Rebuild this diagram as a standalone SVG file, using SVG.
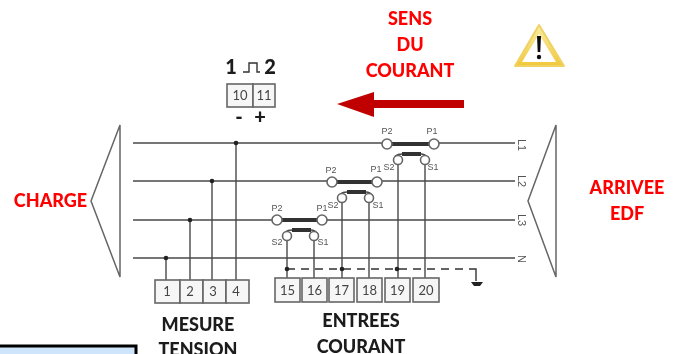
<svg xmlns="http://www.w3.org/2000/svg" width="681" height="354" viewBox="0 0 681 354">
<style>
.w{stroke:#4a4a4a;stroke-width:1.4;fill:none}
.tri{stroke:#666;stroke-width:1.5;fill:none}
.bar{stroke:#333;stroke-width:4;fill:none}
.c{stroke:#666;stroke-width:1.6;fill:#fff}
.box{stroke:#666;stroke-width:1.6;fill:#f6f6f6}
.d{fill:#222}
text{font-family:"Lato","Open Sans","Liberation Sans",sans-serif}
.red{fill:#f00;font-weight:900;font-size:18px;text-anchor:middle}
.blk{fill:#1a1a1a;font-weight:900;font-size:18px;text-anchor:middle}
.n{fill:#444;font-size:13px;text-anchor:middle}
.s{fill:#555;font-size:9px;text-anchor:middle;font-family:"Liberation Sans",sans-serif}
.ph{font-size:11px}
</style>
<defs>
<linearGradient id="y" x1="0" y1="0" x2="0" y2="1"><stop offset="0" stop-color="#f8eea8"/><stop offset="1" stop-color="#f2c83a"/></linearGradient>
<filter id="soft" x="0" y="0" width="100%" height="100%"><feGaussianBlur stdDeviation="0.45"/></filter>
</defs>
<rect width="681" height="354" fill="#fff"/>
<g filter="url(#soft)">
<g id="connectors">
<path class="w" d="M133 143H515M133 181H515M133 220H515M133 258H515"/>
<path class="w" d="M166 258V280M190 220V280M212 181V280M236 143V280"/>
<path class="w" d="M287 236V278M314 236V278M342 197V278M369 197V278M398 160V278M425 160V278"/>
<path d="M287 269H470" fill="none" stroke="#333" stroke-width="1.4" stroke-dasharray="8 6"/>
<path d="M470 269H476V281" fill="none" stroke="#333" stroke-width="1.4"/>
<path d="M471 282H483L480 286H474Z" fill="#222"/>
<g class="d"><circle cx="166" cy="258" r="2.3"/><circle cx="190" cy="220" r="2.3"/><circle cx="212" cy="181" r="2.3"/><circle cx="236" cy="143" r="2.3"/><circle cx="287" cy="269" r="2.3"/><circle cx="342" cy="269" r="2.3"/><circle cx="397" cy="269" r="2.3"/></g>
</g>
<g id="charge-source"><path class="tri" d="M120 125V277L91 201Z"/><text class="red" x="50.500" y="207">CHARGE</text></g>
<g id="arrivee-source"><path class="tri" d="M556 125V277L528 201Z"/><text class="red" x="627" y="194">ARRIVEE</text><text class="red" x="627" y="220">EDF</text></g>
<g id="ct-l1">
<path class="bar" d="M387 144H434M402 154H421"/>
<path class="w" d="M395 156Q398 154 402 154M421 154Q425 154 428 158"/>
<circle class="c" cx="387" cy="144" r="5"/><circle class="c" cx="434" cy="144" r="5"/><circle class="c" cx="398" cy="160" r="4.500"/><circle class="c" cx="425" cy="160" r="4.500"/>
<text class="s" x="387" y="134">P2</text><text class="s" x="432" y="134">P1</text><text class="s" x="389" y="170">S2</text><text class="s" x="433" y="170">S1</text>
</g>
<g id="ct-l2">
<path class="bar" d="M332 182H377M347 192H366"/>
<path class="w" d="M340 194Q343 192 347 192M366 192Q370 192 373 196"/>
<circle class="c" cx="332" cy="182" r="5"/><circle class="c" cx="377" cy="182" r="5"/><circle class="c" cx="342" cy="198" r="4.500"/><circle class="c" cx="369" cy="198" r="4.500"/>
<text class="s" x="331" y="173">P2</text><text class="s" x="376" y="172">P1</text><text class="s" x="333" y="208">S2</text><text class="s" x="378" y="208">S1</text>
</g>
<g id="ct-l3">
<path class="bar" d="M277 220H322M292 230H311"/>
<path class="w" d="M285 232Q288 230 292 230M311 230Q315 230 318 234"/>
<circle class="c" cx="277" cy="220" r="5"/><circle class="c" cx="322" cy="220" r="5"/><circle class="c" cx="287" cy="236" r="4.500"/><circle class="c" cx="314" cy="236" r="4.500"/>
<text class="s" x="277" y="211">P2</text><text class="s" x="322" y="211">P1</text><text class="s" x="277" y="245">S2</text><text class="s" x="323" y="245">S1</text>
</g>
<g id="phase-labels">
<text class="s ph" transform="translate(518 145) rotate(90)">L1</text>
<text class="s ph" transform="translate(518 181) rotate(90)">L2</text>
<text class="s ph" transform="translate(518 220) rotate(90)">L3</text>
<text class="s ph" transform="translate(518 259) rotate(90)">N</text>
</g>
<g id="pulse-output">
<text class="blk" x="231" y="74" style="font-size:20px">1</text>
<path d="M243 72H249V63H257V72H260" fill="none" stroke="#333" stroke-width="1.4"/>
<text class="blk" x="270" y="74" style="font-size:20px">2</text>
<rect class="box" x="227" y="84" width="26" height="23"/><rect class="box" x="253" y="84" width="22" height="23"/>
<text class="n" x="240" y="100">10</text><text class="n" x="264" y="100">11</text>
<text class="blk" x="239" y="124" style="font-size:20px">-</text><text class="blk" x="260" y="124" style="font-size:20px">+</text>
</g>
<g id="voltage-terminals">
<rect class="box" x="155" y="280" width="25" height="23"/><rect class="box" x="180" y="280" width="23" height="23"/><rect class="box" x="203" y="280" width="23" height="23"/><rect class="box" x="226" y="280" width="23" height="23"/>
<text class="n" x="167" y="296">1</text><text class="n" x="190" y="296">2</text><text class="n" x="213" y="296">3</text><text class="n" x="236" y="296">4</text>
<text class="blk" x="198" y="331">MESURE</text><text class="blk" x="198" y="356">TENSION</text>
</g>
<g id="current-terminals">
<rect class="box" x="275" y="278" width="25" height="24"/><rect class="box" x="302" y="278" width="25" height="24"/><rect class="box" x="329" y="278" width="25" height="24"/><rect class="box" x="357" y="278" width="25" height="24"/><rect class="box" x="385" y="278" width="25" height="24"/><rect class="box" x="413" y="278" width="26" height="24"/>
<text class="n" x="287.500" y="295">15</text><text class="n" x="314.500" y="295">16</text><text class="n" x="341.500" y="295">17</text><text class="n" x="369.500" y="295">18</text><text class="n" x="397.500" y="295">19</text><text class="n" x="426" y="295">20</text>
<text class="blk" x="361" y="327">ENTREES</text><text class="blk" x="361" y="353">COURANT</text>
</g>
<g id="current-direction">
<text class="red" x="410" y="25">SENS</text><text class="red" x="410" y="51">DU</text><text class="red" x="410" y="77">COURANT</text>
<path d="M464 100V108H374V117L337 104L374 92V100Z" fill="#c00000"/>
</g>
<g id="warning">
<path d="M539 25L515 66H564Z" fill="url(#y)" stroke="#f0d264" stroke-width="2" stroke-linejoin="round"/>
<path d="M539 34L522 62H556Z" fill="#fff"/>
<path d="M537 36H541L540.300 52H537.700Z" fill="#111"/><circle cx="539" cy="57" r="2.200" fill="#111"/>
</g>
<g id="corner-box"><rect x="-3" y="346" width="139" height="12" fill="#cfe5fb" stroke="#000" stroke-width="3"/></g>
</g>
</svg>
